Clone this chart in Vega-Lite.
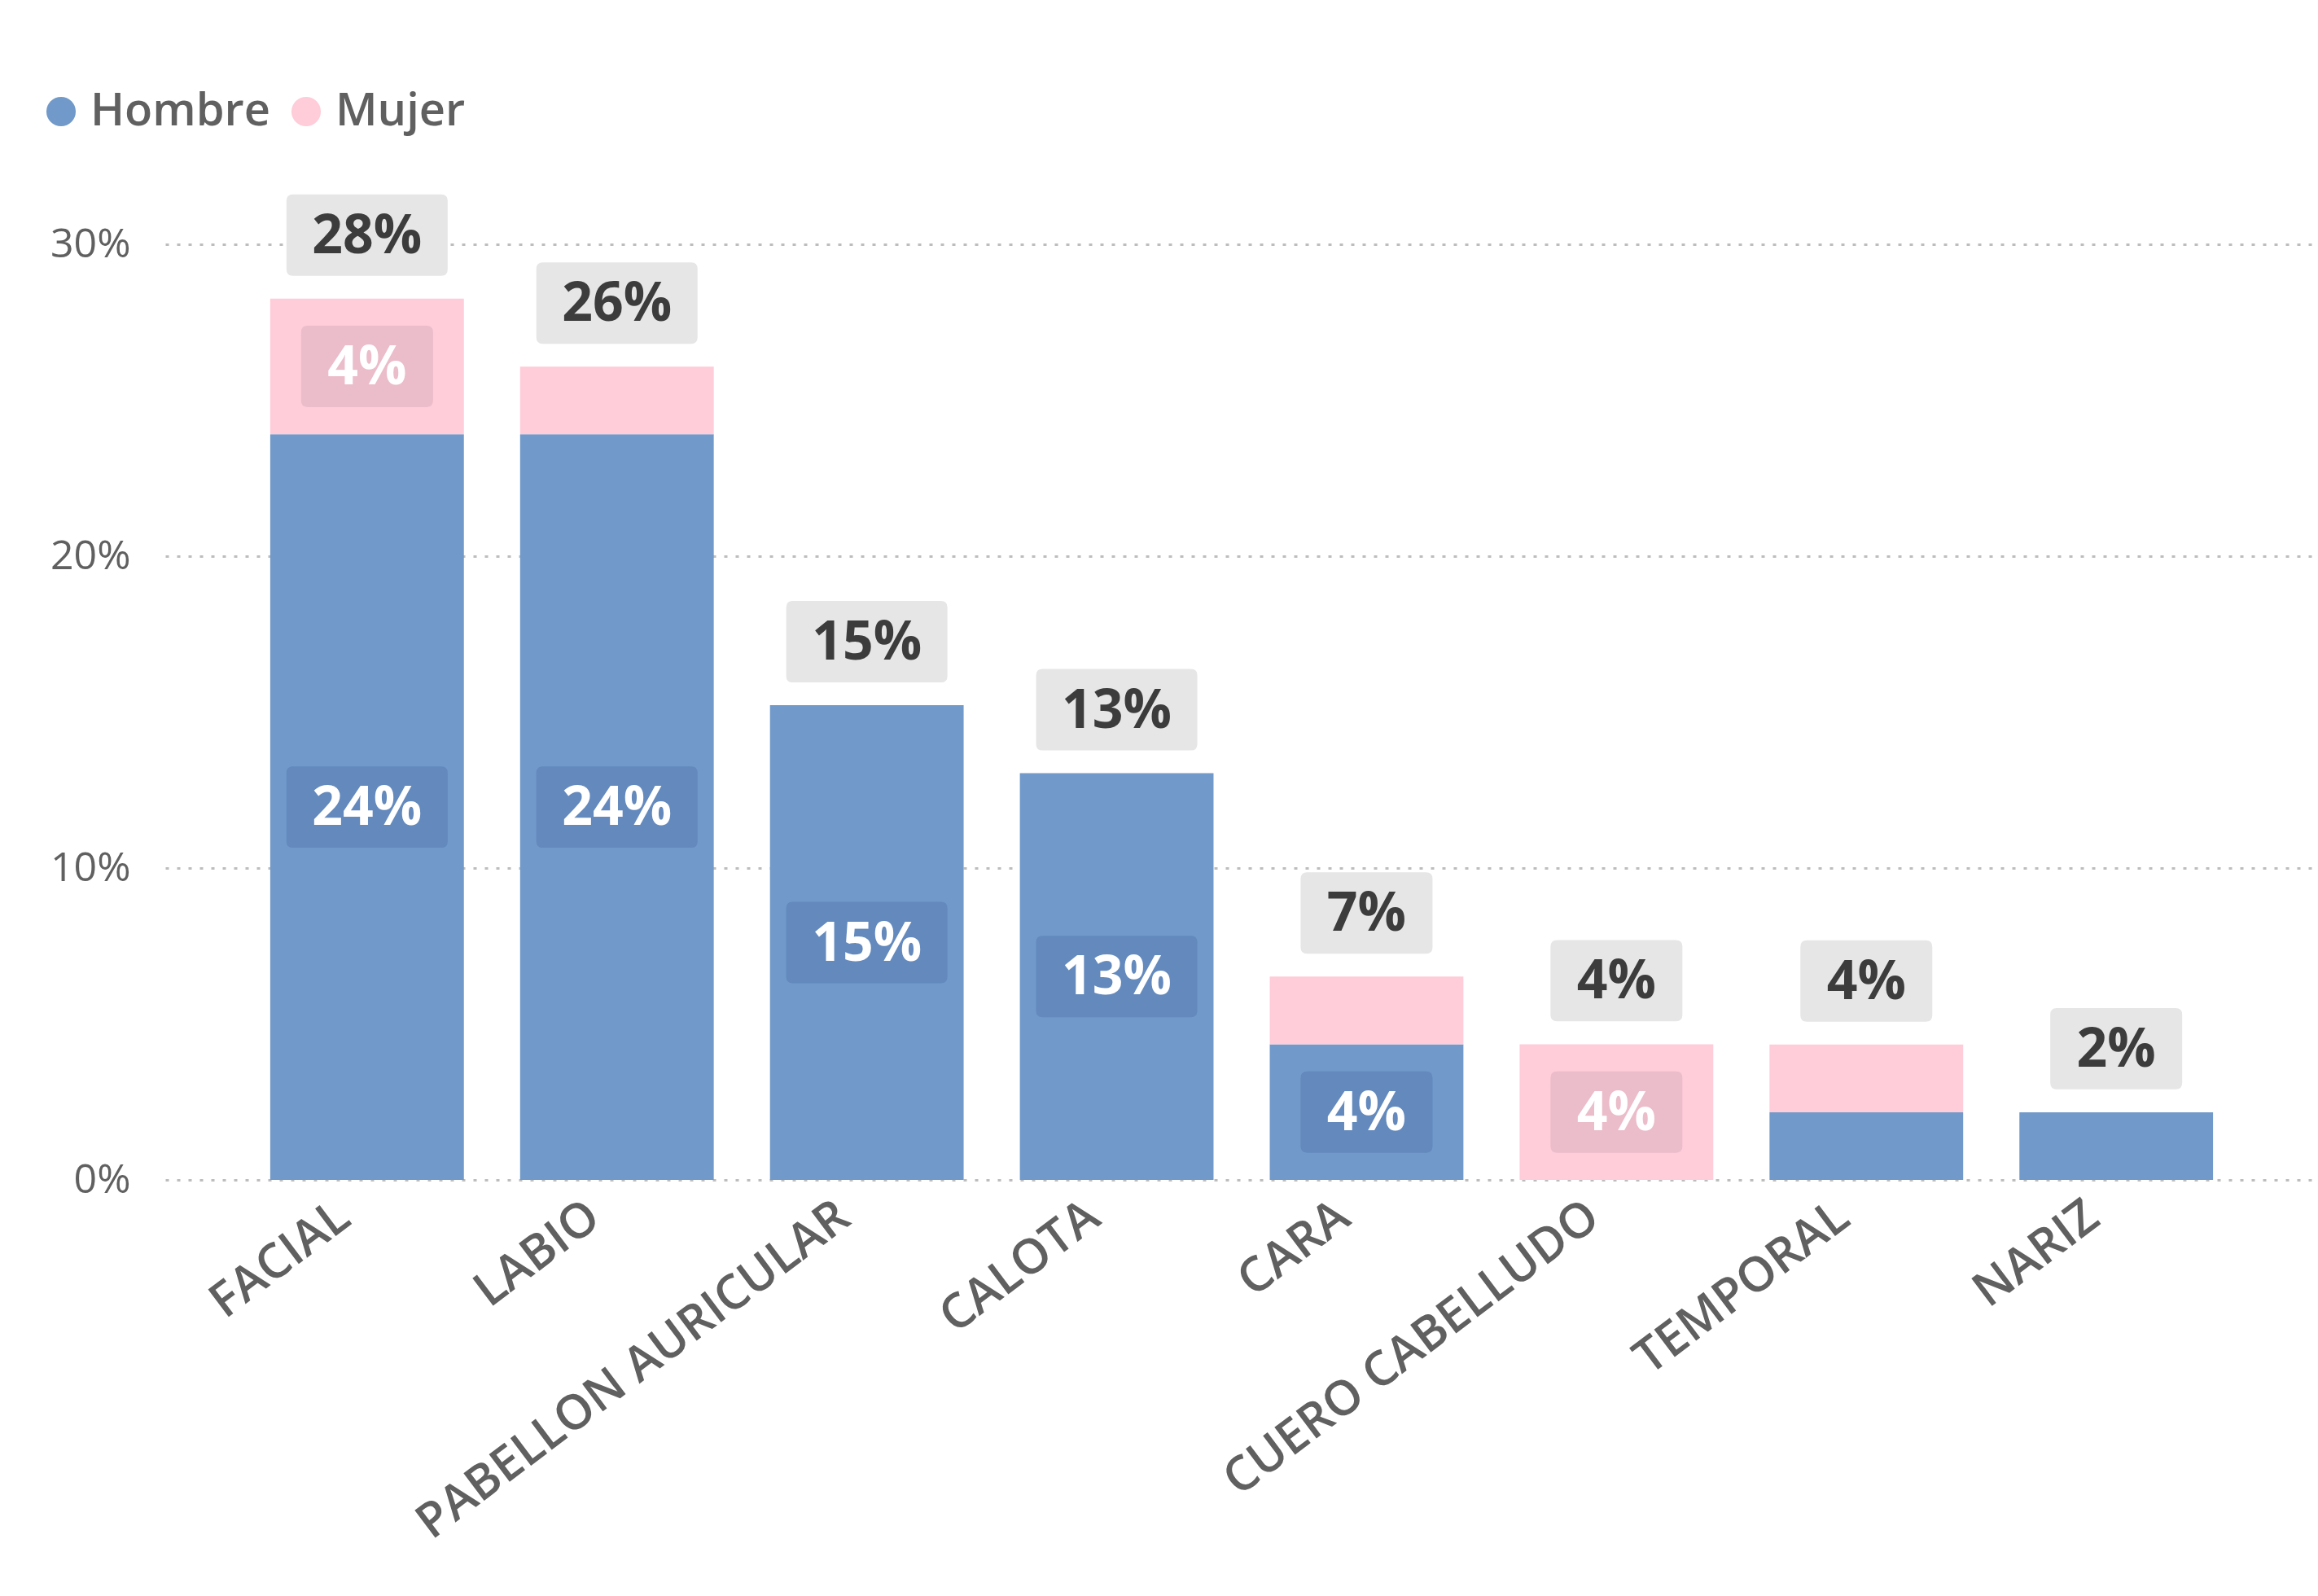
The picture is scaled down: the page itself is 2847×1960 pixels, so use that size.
{
  "$schema": "https://vega.github.io/schema/vega-lite/v6.json",
  "width": 2644,
  "height": 1149,
  "autosize": {"type": "none"},
  "padding": {"left": 203, "top": 300, "right": 0, "bottom": 511},
  "background": "white",
  "config": {
    "view": {"stroke": null},
    "font": "Open Sans",
    "axisY": {
      "grid": true, "gridColor": "#bdbdbd", "gridDash": [4, 10], "gridWidth": 3,
      "domain": false, "ticks": false, "labelFontSize": 50, "labelColor": "#606060",
      "labelPadding": 43, "title": null
    },
    "axisX": {
      "grid": false, "domain": false, "ticks": false, "labelFontSize": 59, "labelColor": "#606060",
      "labelAngle": -37, "labelAlign": "right", "labelBaseline": "middle", "labelPadding": 38,
      "labelOffset": -28, "title": null, "labelFontWeight": 600, "labelLimit": 0
    },
    "legend": {
      "orient": "none", "legendX": -156, "legendY": -191, "direction": "horizontal",
      "symbolType": "circle", "symbolSize": 1300, "symbolStrokeWidth": 0,
      "labelFontSize": 56, "labelFontWeight": 600, "labelColor": "#606060",
      "labelOffset": 8, "columnPadding": 16, "padding": 0, "title": null, "labelLimit": 0
    }
  },
  "data": {"values": [
    {"zona": "FACIAL", "sexo": "Hombre", "pct": 0.2391},
    {"zona": "FACIAL", "sexo": "Mujer", "pct": 0.0435},
    {"zona": "LABIO", "sexo": "Hombre", "pct": 0.2391},
    {"zona": "LABIO", "sexo": "Mujer", "pct": 0.0217},
    {"zona": "PABELLON AURICULAR", "sexo": "Hombre", "pct": 0.1522},
    {"zona": "CALOTA", "sexo": "Hombre", "pct": 0.1304},
    {"zona": "CARA", "sexo": "Hombre", "pct": 0.0435},
    {"zona": "CARA", "sexo": "Mujer", "pct": 0.0217},
    {"zona": "CUERO CABELLUDO", "sexo": "Mujer", "pct": 0.0435},
    {"zona": "TEMPORAL", "sexo": "Hombre", "pct": 0.0217},
    {"zona": "TEMPORAL", "sexo": "Mujer", "pct": 0.0217},
    {"zona": "NARIZ", "sexo": "Hombre", "pct": 0.0217}
  ]},
  "layer": [
    {
      "mark": {"type": "bar"},
      "encoding": {
        "x": {"field": "zona", "type": "nominal", "sort": ["FACIAL", "LABIO", "PABELLON AURICULAR", "CALOTA", "CARA", "CUERO CABELLUDO", "TEMPORAL", "NARIZ"],
              "scale": {"paddingInner": 0.225, "paddingOuter": 0.42}},
        "y": {"field": "pct", "type": "quantitative", "stack": "zero",
              "scale": {"domain": [0, 0.3], "nice": false},
              "axis": {"values": [0, 0.1, 0.2, 0.3], "format": ".0%"}},
        "color": {"field": "sexo", "type": "nominal",
                  "scale": {"domain": ["Hombre", "Mujer"], "range": ["#7199C9", "#FFCCD9"]}},
        "order": {"field": "sexo", "sort": "ascending"}
      }
    },
    {
      "mark": {"type": "point", "filled": true, "strokeWidth": 0, "size": 39204,
               "shape": "M-0.92,-0.505 L0.92,-0.505 Q1,-0.505 1,-0.425 L1,0.425 Q1,0.505 0.92,0.505 L-0.92,0.505 Q-1,0.505 -1,0.425 L-1,-0.425 Q-1,-0.505 -0.92,-0.505 Z"},
      "encoding": {
        "x": {"field": "zona", "type": "nominal", "sort": ["FACIAL", "LABIO", "PABELLON AURICULAR", "CALOTA", "CARA", "CUERO CABELLUDO", "TEMPORAL", "NARIZ"]},
        "y": {"field": "pct", "type": "quantitative", "stack": "zero", "bandPosition": 0.5},
        "detail": {"field": "sexo"},
        "order": {"field": "sexo", "sort": "ascending"},
        "fill": {"condition": {"test": "datum.sexo === 'Hombre'", "value": "#6389BD"}, "value": "#EBBCCA"},
        "opacity": {"condition": {"test": "datum.pct >= 0.095", "value": 1}, "value": 0}
      }
    },
    {
      "mark": {"type": "point", "filled": true, "strokeWidth": 0, "size": 26244,
               "shape": "M-0.9,-0.617 L0.9,-0.617 Q1,-0.617 1,-0.517 L1,0.517 Q1,0.617 0.9,0.617 L-0.9,0.617 Q-1,0.617 -1,0.517 L-1,-0.517 Q-1,-0.617 -0.9,-0.617 Z"},
      "encoding": {
        "x": {"field": "zona", "type": "nominal", "sort": ["FACIAL", "LABIO", "PABELLON AURICULAR", "CALOTA", "CARA", "CUERO CABELLUDO", "TEMPORAL", "NARIZ"]},
        "y": {"field": "pct", "type": "quantitative", "stack": "zero", "bandPosition": 0.5},
        "detail": {"field": "sexo"},
        "order": {"field": "sexo", "sort": "ascending"},
        "fill": {"condition": {"test": "datum.sexo === 'Hombre'", "value": "#6389BD"}, "value": "#EBBCCA"},
        "opacity": {"condition": {"test": "datum.pct >= 0.04 && datum.pct < 0.095", "value": 1}, "value": 0}
      }
    },
    {
      "mark": {"type": "text", "fontSize": 66, "fontWeight": "bold", "color": "white", "baseline": "middle", "dy": 2},
      "encoding": {
        "x": {"field": "zona", "type": "nominal", "sort": ["FACIAL", "LABIO", "PABELLON AURICULAR", "CALOTA", "CARA", "CUERO CABELLUDO", "TEMPORAL", "NARIZ"]},
        "y": {"field": "pct", "type": "quantitative", "stack": "zero", "bandPosition": 0.5},
        "detail": {"field": "sexo"},
        "order": {"field": "sexo", "sort": "ascending"},
        "text": {"field": "pct", "type": "quantitative", "format": ".0%"},
        "opacity": {"condition": {"test": "datum.pct >= 0.04", "value": 1}, "value": 0}
      }
    },
    {
      "transform": [
        {"aggregate": [{"op": "sum", "field": "pct", "as": "total"}], "groupby": ["zona"]}
      ],
      "layer": [
        {
          "transform": [{"filter": "datum.total >= 0.095"}],
          "mark": {"type": "point", "filled": true, "strokeWidth": 0, "size": 39204, "opacity": 1, "yOffset": -78, "color": "#E6E6E6",
                   "shape": "M-0.92,-0.505 L0.92,-0.505 Q1,-0.505 1,-0.425 L1,0.425 Q1,0.505 0.92,0.505 L-0.92,0.505 Q-1,0.505 -1,0.425 L-1,-0.425 Q-1,-0.505 -0.92,-0.505 Z"},
          "encoding": {
            "x": {"field": "zona", "type": "nominal", "sort": ["FACIAL", "LABIO", "PABELLON AURICULAR", "CALOTA", "CARA", "CUERO CABELLUDO", "TEMPORAL", "NARIZ"]},
            "y": {"field": "total", "type": "quantitative"}
          }
        },
        {
          "transform": [{"filter": "datum.total < 0.095"}],
          "mark": {"type": "point", "filled": true, "strokeWidth": 0, "size": 26244, "opacity": 1, "yOffset": -78, "color": "#E6E6E6",
                   "shape": "M-0.9,-0.617 L0.9,-0.617 Q1,-0.617 1,-0.517 L1,0.517 Q1,0.617 0.9,0.617 L-0.9,0.617 Q-1,0.617 -1,0.517 L-1,-0.517 Q-1,-0.617 -0.9,-0.617 Z"},
          "encoding": {
            "x": {"field": "zona", "type": "nominal", "sort": ["FACIAL", "LABIO", "PABELLON AURICULAR", "CALOTA", "CARA", "CUERO CABELLUDO", "TEMPORAL", "NARIZ"]},
            "y": {"field": "total", "type": "quantitative"}
          }
        },
        {
          "mark": {"type": "text", "fontSize": 66, "fontWeight": "bold", "color": "#3C3C3C", "baseline": "middle", "yOffset": -76},
          "encoding": {
            "x": {"field": "zona", "type": "nominal", "sort": ["FACIAL", "LABIO", "PABELLON AURICULAR", "CALOTA", "CARA", "CUERO CABELLUDO", "TEMPORAL", "NARIZ"]},
            "y": {"field": "total", "type": "quantitative"},
            "text": {"field": "total", "type": "quantitative", "format": ".0%"}
          }
        }
      ]
    }
  ]
}
